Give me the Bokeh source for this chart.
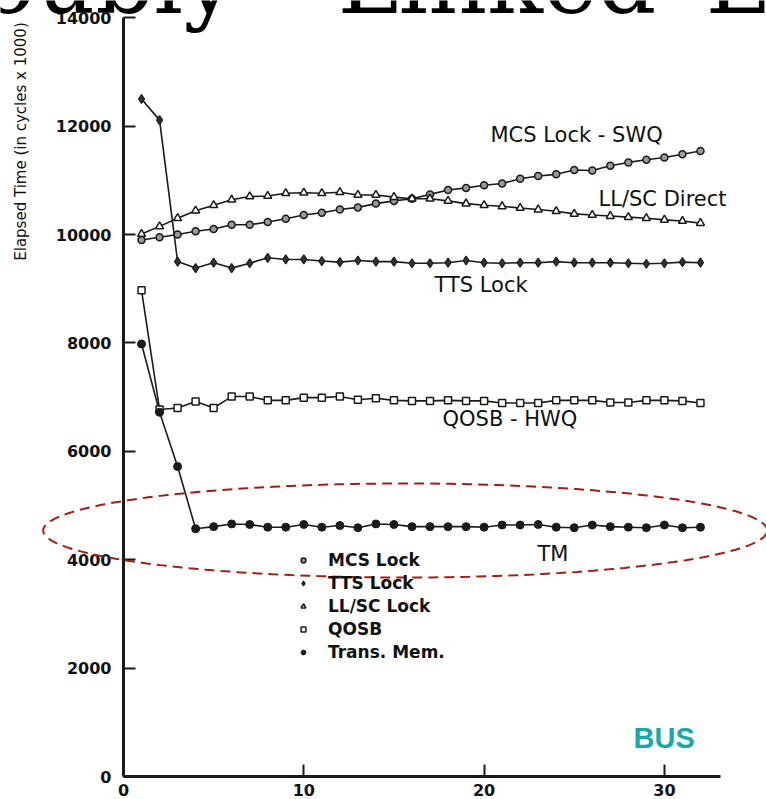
import numpy as np
from bokeh.plotting import figure
from bokeh.models import FixedTicker, Label, Legend, LegendItem, PolyAnnotation, Range1d
from bokeh.embed import file_html
from bokeh.resources import INLINE

# ---- data ----
threads = list(range(1, 33))
mcs_lock = [9900, 9950, 10000, 10060, 10100, 10180, 10180, 10230, 10290, 10360, 10400, 10460,
            10500, 10570, 10620, 10660, 10740, 10820, 10860, 10910, 10940, 11030, 11080, 11110,
            11190, 11180, 11270, 11330, 11380, 11420, 11480, 11540]
tts_lock = [12500, 12110, 9500, 9380, 9480, 9380, 9470, 9570, 9540, 9540, 9510, 9490,
            9520, 9500, 9500, 9470, 9470, 9480, 9520, 9480, 9470, 9480, 9480, 9500,
            9480, 9480, 9480, 9470, 9460, 9470, 9490, 9480]
llsc_lock = [10010, 10150, 10300, 10440, 10540, 10640, 10700, 10710, 10760, 10770, 10760, 10780,
             10730, 10730, 10690, 10660, 10660, 10620, 10570, 10540, 10520, 10490, 10460, 10430,
             10380, 10360, 10340, 10320, 10300, 10270, 10250, 10210]
qosb = [8970, 6770, 6800, 6920, 6800, 7010, 7010, 6940, 6940, 6990, 6990, 7010,
        6950, 6980, 6940, 6930, 6930, 6940, 6930, 6930, 6890, 6890, 6890, 6940,
        6940, 6940, 6900, 6900, 6940, 6940, 6930, 6890]
trans_mem = [7980, 6720, 5720, 4570, 4610, 4660, 4650, 4600, 4600, 4650, 4600, 4630,
             4590, 4660, 4650, 4610, 4610, 4610, 4610, 4600, 4640, 4640, 4650, 4600,
             4590, 4640, 4610, 4600, 4590, 4640, 4590, 4600]

x_ticks = [0, 10, 20, 30]
y_ticks = [0, 2000, 4000, 6000, 8000, 10000, 12000, 14000]
x_axis_end = 33.1
y_axis_end = 14000

legend_labels = ["MCS Lock", "TTS Lock", "LL/SC Lock", "QOSB", "Trans. Mem."]

# ---- layout: canvas pixel <-> data mapping ----
W, H = 766, 799
X0, XS = 123, 18.03      # pixel of x=0, pixels per unit
Y0, YS = 776, 0.0542     # pixel of y=0, pixels per unit


def dx(px):
    return (px - X0) / XS


def dy(py):
    return (Y0 - py) / YS


INK = "#1a1a1a"

p = figure(width=W, height=H, output_backend="svg", toolbar_location=None,
           x_range=Range1d(dx(0), dx(W)), y_range=Range1d(dy(H), dy(0)),
           min_border=0, background_fill_color="white", border_fill_color="white")
p.outline_line_color = None
p.xgrid.visible = False
p.ygrid.visible = False

p.xaxis[0].fixed_location = 0
p.xaxis[0].bounds = (0, x_axis_end)
p.yaxis[0].fixed_location = 0
p.yaxis[0].bounds = (0, y_axis_end)
for ax, ticks in ((p.xaxis[0], x_ticks), (p.yaxis[0], y_ticks)):
    ax.ticker = FixedTicker(ticks=ticks)
    ax.minor_tick_line_color = None
    ax.axis_line_width = 3
    ax.axis_line_color = INK
    ax.major_tick_in = 12
    ax.major_tick_out = 0
    ax.major_tick_line_width = 2
    ax.major_tick_line_color = INK
    ax.major_label_text_font = "DejaVu Sans"
    ax.major_label_text_font_style = "bold"
    ax.major_label_text_font_size = "16px"
    ax.major_label_text_color = "#111111"
p.yaxis[0].major_label_standoff = 12
p.xaxis[0].major_label_standoff = 7

series = [mcs_lock, tts_lock, llsc_lock, qosb, trans_mem]
styles = [
    dict(marker="circle", size=7, fill_color="#9a9a9a", line_color=INK, line_width=1.5),
    dict(marker="diamond", size=9, fill_color="#333333", line_color=INK, line_width=1.2),
    dict(marker="triangle", size=8, fill_color="white", line_color=INK, line_width=1.5),
    dict(marker="square", size=7, fill_color="white", line_color=INK, line_width=1.5),
    dict(marker="circle", size=8, fill_color=INK, line_color=INK, line_width=1),
]
for ys in series:
    p.line(threads, ys, line_color=INK, line_width=1.6)
scatter_renderers = [p.scatter(threads, ys, **st) for ys, st in zip(series, styles)]

legend = Legend(items=[LegendItem(label=l, renderers=[r]) for l, r in zip(legend_labels, scatter_renderers)],
                location=(297, 137), orientation="vertical",
                border_line_color=None, background_fill_alpha=0,
                label_text_font="DejaVu Sans", label_text_font_style="bold",
                label_text_font_size="17px", label_text_color="#111111",
                glyph_width=12, glyph_height=20, label_height=20, spacing=3,
                label_standoff=19, padding=0, margin=0)
p.add_layout(legend)

# red dashed highlight ellipse around the TM curve
ell_cx, ell_cy, ell_a, ell_b = dx(404.7), dy(530), 362 / XS, 47 / YS
t = np.linspace(0, 2 * np.pi, 240)
p.add_layout(PolyAnnotation(xs=list(ell_cx + ell_a * np.cos(t)), ys=list(ell_cy + ell_b * np.sin(t)),
                            fill_alpha=0, line_color="#a61d10", line_alpha=1.0,
                            line_width=2, line_dash="10 6"))

# curve annotations: (text, left px, baseline px)
FS = 21
for txt, lx, base in (("MCS Lock - SWQ", 490, 141.7), ("LL/SC Direct", 598, 206),
                      ("TTS Lock", 434, 291.7), ("QOSB - HWQ", 442, 426), ("TM", 537, 561)):
    p.add_layout(Label(x=dx(lx), y=dy(base - 0.36 * FS), text=txt, text_font="DejaVu Sans",
                       text_font_size=f"{FS}px", text_color="#111111",
                       text_align="left", text_baseline="middle"))

p.add_layout(Label(x=dx(633), y=dy(748 - 0.36 * 29), text="BUS", text_font="Liberation Sans",
                   text_font_style="bold", text_font_size="29px", text_color="#19a7a8",
                   text_align="left", text_baseline="middle"))

p.add_layout(Label(x=dx(20), y=dy(141), text="Elapsed Time (in cycles x 1000)", angle=np.pi / 2,
                   text_font="DejaVu Sans", text_font_size="15px", text_color="#111111",
                   text_align="center", text_baseline="middle"))

# slide title, cut off at the top edge as in the reference
TFS = 92
for txt, lx in (("oubly", -20), ("Linked", 337), ("L", 705)):
    p.add_layout(Label(x=dx(lx), y=dy(10 - 0.315 * TFS), text=txt, text_font="DejaVu Serif",
                       text_font_size=f"{TFS}px", text_color="black",
                       text_align="left", text_baseline="middle"))

open("out.html", "w").write(file_html(p, INLINE))
